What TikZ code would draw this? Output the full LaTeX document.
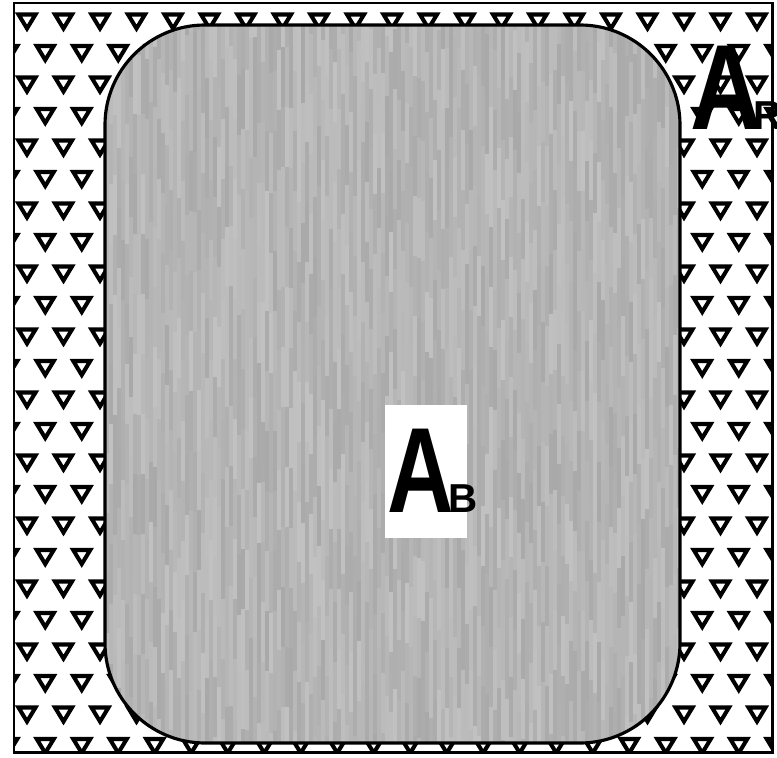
\documentclass[tikz,border=0pt]{standalone}
\usepackage{fontspec}
\setmainfont{Liberation Sans}
\usetikzlibrary{positioning}
\definecolor{stonegray}{RGB}{180,180,180}

\begin{document}
\begin{tikzpicture}[x=0.02cm,y=-0.02cm,
  tri/.style={draw=black,line width=2.3pt},
  big/.style={inner sep=0pt,font=\fontsize{69}{69}\selectfont\bfseries},
  small/.style={inner sep=0pt,font=\fontsize{23}{23}\selectfont\bfseries}]
  \useasboundingbox (0,0) rectangle (777,757);
  \fill[white] (0,0) rectangle (777,757);
  % --- okoli: trojuhelniky ---
  \begin{scope}
    \clip (14,3) rectangle (772,752);
    \foreach \r in {0,...,23} {
      \pgfmathsetmacro{\yy}{21+31.5*\r}
      \pgfmathsetmacro{\xo}{mod(\r,2)*18.25}
      \foreach \c in {-1,...,21} {
        \pgfmathsetmacro{\xx}{27+\xo+36.5*\c}
        \draw[tri] (\xx-8.5,\yy-6.5) -- ++(17,0) -- ++(-8.5,14) -- cycle;
      }
    }
  \end{scope}
  % --- oblast B: sedy povrch ---
  \begin{scope}
    \clip[rounded corners=2cm] (105,25) rectangle (680,743);
    \fill[stonegray] (105,25) rectangle (680,743);
    \pgfmathsetseed{7}
    \foreach \i in {0,...,143} {
      \pgfmathsetmacro{\ystart}{25-60*rnd}
      \foreach \j in {0,...,12} {
        \pgfmathrandominteger{\g}{160}{205}
        \fill[fill={rgb,255:red,\g;green,\g;blue,\g},opacity=0.55]
          (105+4*\i,\ystart+60*\j) rectangle ++(4,60);
      }
    }
  \end{scope}
  \draw[line width=1.8pt,rounded corners=2cm] (105,25) rectangle (680,743);
  \draw[line width=1.7pt] (14,3) rectangle (772,752);
  % --- popisky ---
  \node[fill=white,minimum width=1.64cm,minimum height=2.66cm,inner sep=0pt] (boxB) at (426,471.5) {};
  \node[big,anchor=base west] (aB) at (387,512) {\scalebox{0.76}[1]{A}};
  \node[small,anchor=base west] (sB) at ([xshift=-0.12cm]aB.base east) {B};
  \node[big,anchor=base west] (aR) at (690,130) {\scalebox{0.82}[1]{A}};
  \node[small,anchor=base west] (sR) at ([xshift=-0.18cm]aR.base east) {R};
\end{tikzpicture}
\end{document}
